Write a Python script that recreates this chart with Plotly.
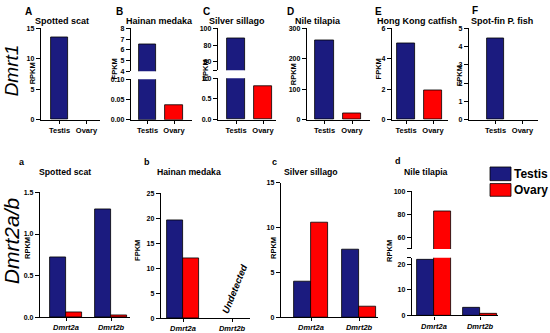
import plotly.graph_objects as go

W, H = 550, 333
NAVY = '#1b1b7f'
RED = '#ff0000'
FONT = 'Liberation Sans, Arial, sans-serif'

# ---------------- data ----------------
tissues = ['Testis', 'Ovary']
genes = ['Dmrt2a', 'Dmrt2b']

# None = no bar drawn (not detected / no visible expression)
dmrt1_spotted_scat = [13.5, None]
dmrt1_hainan_medaka = [6.5, 0.037]
dmrt1_silver_sillago = [88.0, 0.8]
dmrt1_nile_tilapia = [262.0, 22.0]
dmrt1_hk_catfish = [5.0, 1.95]
dmrt1_spotfin = [4.45, None]

dmrt2_spotted_scat_testis = [0.72, 1.29]
dmrt2_spotted_scat_ovary = [0.06, 0.025]
dmrt2_hainan_medaka_testis = [19.5, None]
dmrt2_hainan_medaka_ovary = [12.0, None]
dmrt2_silver_sillago_testis = [4.0, 7.5]
dmrt2_silver_sillago_ovary = [10.6, 1.15]
dmrt2_nile_tilapia_testis = [21.8, 2.8]
dmrt2_nile_tilapia_ovary = [83.0, 0.8]

# ---------------- helpers ----------------
fig = go.Figure()
lay = {}
count = [0]


def fx(p):
    return p / W


def fy(p):
    return 1 - p / H


def add_axes(L, R, top, bot, c0, s, yrange, yticks, yticktext, show_x=True,
             italic_x=False):
    count[0] += 1
    i = count[0]
    sfx = '' if i == 1 else str(i)
    xname, yname = 'xaxis' + sfx, 'yaxis' + sfx
    xref, yref = 'x' + sfx, 'y' + sfx
    lay[xname] = dict(
        domain=[fx(L), fx(R)], anchor=yref,
        range=[(L - c0) / s, (R - c0) / s],
        showline=show_x, visible=show_x, linecolor='black', linewidth=1.4,
        ticks='outside' if show_x else '', ticklen=3, tickwidth=1.1,
        tickcolor='black', showgrid=False, zeroline=False,
        tickfont=dict(family=FONT, size=7.5, color='black', weight='bold',
                      style='italic' if italic_x else 'normal'),
        fixedrange=True,
    )
    lay[yname] = dict(
        domain=[fy(bot), fy(top)], anchor=xref,
        range=yrange, showline=True, linecolor='black', linewidth=1.4,
        ticks='outside', ticklen=4, tickwidth=1.1, tickcolor='black',
        tickvals=yticks, ticktext=yticktext, showgrid=False, zeroline=False,
        tickfont=dict(family=FONT, size=7, color='black', weight='bold'),
        fixedrange=True,
    )
    return xref, yref


def top_bars(refs, values, width=0.66):
    fig.add_trace(go.Bar(
        x=tissues, y=values, xaxis=refs[0], yaxis=refs[1], width=width,
        marker=dict(color=[NAVY, RED], line=dict(color='black', width=0.8)),
        showlegend=False, hoverinfo='x+y'))


def group_bars(refs, testis, ovary, w):
    fig.add_trace(go.Bar(
        x=genes, y=testis, xaxis=refs[0], yaxis=refs[1], width=w, offset=-w,
        marker=dict(color=NAVY, line=dict(color='black', width=0.8)),
        name='Testis', showlegend=False))
    fig.add_trace(go.Bar(
        x=genes, y=ovary, xaxis=refs[0], yaxis=refs[1], width=w, offset=0,
        marker=dict(color=RED, line=dict(color='black', width=0.8)),
        name='Ovary', showlegend=False))


# ---------------- top row: Dmrt1 ----------------
rA = add_axes(41, 100, 25, 118.5, 59.5, 27, [0, 15], [0, 5, 10, 15],
              ['0', '5', '10', '15'])
top_bars(rA, dmrt1_spotted_scat)

rBu = add_axes(131, 192, 25, 69, 147.5, 26.5, [4, 8], [4, 5, 6, 7, 8],
               ['4', '5', '6', '7', '8'], show_x=False)
top_bars(rBu, dmrt1_hainan_medaka)
rBl = add_axes(131, 192, 77, 118.5, 147.5, 26.5, [0, 0.1], [0, 0.05, 0.1],
               ['0.00', '0.05', '0.10'])
top_bars(rBl, dmrt1_hainan_medaka)

rCu = add_axes(218, 276, 25, 68, 236, 27, [50, 100], [50, 60, 80, 100],
               ['', '60', '80', '100'], show_x=False)
top_bars(rCu, dmrt1_silver_sillago)
rCl = add_axes(218, 276, 76, 118.5, 236, 27, [0, 1], [0, 0.5, 1],
               ['0.0', '0.5', '1.0'])
top_bars(rCl, dmrt1_silver_sillago)

rD = add_axes(307, 370, 25, 118.5, 324.5, 27.5, [0, 300], [0, 100, 200, 300],
              ['0', '100', '200', '300'])
top_bars(rD, dmrt1_nile_tilapia)

rE = add_axes(392, 448, 25, 118.5, 406, 27, [0, 6], [0, 2, 4, 6],
              ['0', '2', '4', '6'])
top_bars(rE, dmrt1_hk_catfish)

rF = add_axes(469, 538, 25, 118.5, 495.5, 27, [0, 5], [0, 1, 2, 3, 4, 5],
              ['0', '1', '2', '3', '4', '5'])
top_bars(rF, dmrt1_spotfin)

# ---------------- bottom row: Dmrt2a/b ----------------
ra = add_axes(40, 130, 193, 321, 66, 45, [0, 1.5], [0, 0.5, 1, 1.5],
              ['0.0', '0.5', '1.0', '1.5'], italic_x=True)
group_bars(ra, dmrt2_spotted_scat_testis, dmrt2_spotted_scat_ovary, 0.356)

rb = add_axes(161, 250, 194, 322, 183, 49, [0, 25], [0, 5, 10, 15, 20, 25],
              ['0', '5', '10', '15', '20', '25'], italic_x=True)
group_bars(rb, dmrt2_hainan_medaka_testis, dmrt2_hainan_medaka_ovary, 0.33)

rc = add_axes(281, 378, 183, 321, 311, 48, [0, 15], [0, 5, 10, 15],
              ['0', '5', '10', '15'], italic_x=True)
group_bars(rc, dmrt2_silver_sillago_testis, dmrt2_silver_sillago_ovary, 0.36)

rdu = add_axes(412, 498, 192, 251, 434, 46, [50, 100], [50, 60, 80, 100],
               ['', '60', '80', '100'], show_x=False)
group_bars(rdu, dmrt2_nile_tilapia_testis, dmrt2_nile_tilapia_ovary, 0.36)
rdl = add_axes(412, 498, 260, 319, 434, 46, [0, 22.5], [0, 10, 20, 22.5],
               ['0', '10', '20', ''], italic_x=True)
group_bars(rdl, dmrt2_nile_tilapia_testis, dmrt2_nile_tilapia_ovary, 0.36)

# ---------------- annotations ----------------
ann = []


def text(x, y, t, size, bold=True, italic=False, angle=0, xanchor='center',
         color='black'):
    ann.append(dict(
        x=fx(x), y=fy(y), xref='paper', yref='paper', text=t, showarrow=False,
        xanchor=xanchor, yanchor='middle', textangle=angle,
        font=dict(family=FONT, size=size, color=color,
                  weight='bold' if bold else 'normal',
                  style='italic' if italic else 'normal')))


# panel letters
for lx, ly, t in [(28.5, 8, 'A'), (119, 8, 'B'), (206, 8, 'C'), (290, 8, 'D'),
                  (378, 8, 'E'), (475, 7, 'F')]:
    text(lx, ly, t, 10)
for lx, ly, t in [(22, 162, 'a'), (147, 162, 'b'), (274, 162, 'c'),
                  (398, 161, 'd')]:
    text(lx, ly, t, 9)

# panel titles
for lx, t in [(33, 'Spotted scat'), (124, 'Hainan medaka'),
              (207, 'Silver sillago'), (293, 'Nile tilapia'),
              (375, 'Hong Kong catfish'), (469, 'Spot-fin P. fish')]:
    text(lx, 17, t, 9, xanchor='left')
for lx, t in [(37, 'Spotted scat'), (155, 'Hainan medaka'),
              (282, 'Silver sillago'), (402, 'Nile tilapia')]:
    text(lx, 172, t, 8.7, xanchor='left')

# y-axis titles
for lx, ly, t in [(32, 71, 'RPKM'), (114, 67, 'FPKM'), (205, 68, 'RPKM'),
                  (293, 72, 'RPKM'), (378, 67, 'FPKM'), (459, 74, 'FPKM'),
                  (28, 250, 'RPKM'), (138, 253, 'FPKM'), (274, 250, 'RPKM'),
                  (390, 253, 'RPKM')]:
    text(lx, ly, t, 7.5, angle=-90)

# row labels
text(11, 68, 'Dmrt1', 19, bold=False, italic=True, angle=-90)
text(11, 243, 'Dmrt2a/b', 21, bold=False, italic=True, angle=-90)

# undetected
text(235, 292, 'Undetected', 9.5, bold=True, italic=True, angle=-68)

# legend
shapes = []
for y0, y1, col, lab in [(167, 181, NAVY, 'Testis'), (184, 197, RED, 'Ovary')]:
    shapes.append(dict(type='rect', xref='paper', yref='paper',
                       x0=fx(490), x1=fx(511), y0=fy(y1), y1=fy(y0),
                       fillcolor=col, line=dict(color='black', width=0.8)))
    text(512, (y0 + y1) / 2, lab, 12, bold=True, xanchor='left')

fig.update_layout(
    width=W, height=H, autosize=False,
    margin=dict(l=0, r=0, t=0, b=0, pad=0),
    paper_bgcolor='white', plot_bgcolor='rgba(0,0,0,0)',
    barmode='overlay', bargap=0,
    annotations=ann, shapes=shapes, showlegend=False,
    font=dict(family=FONT, color='black'),
    **lay,
)

fig.write_html("out.html", config={'displayModeBar': False},
               post_script="document.body.style.margin='0';")
